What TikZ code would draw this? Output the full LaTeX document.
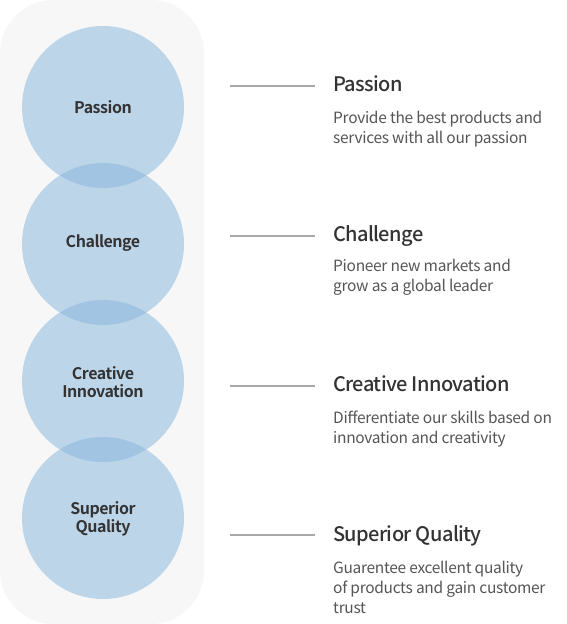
\documentclass[tikz,border=0pt]{standalone}
\usepackage{fontspec}
\setmainfont{Noto Sans CJK KR}
\newfontfamily\circfont{Noto Sans CJK KR}[UprightFont={* Bold},LetterSpace=-3]
\newfontfamily\headfont{Noto Sans CJK KR}[UprightFont={* Medium},LetterSpace=-3]
\newfontfamily\descfont{Noto Sans CJK KR}[LetterSpace=-2]
\definecolor{bgpanel}{HTML}{F7F7F7}
\definecolor{circblue}{RGB}{133,181,221}
\definecolor{darktext}{HTML}{333333}
\definecolor{desctext}{HTML}{555555}
\definecolor{rulegray}{HTML}{A8A8A8}
\begin{document}
\begin{tikzpicture}[x=1pt,y=-1pt,
  panel/.style={fill=bgpanel,draw=none,rounded corners=53pt},
  bubble/.style={circle,minimum size=162pt,inner sep=0pt,fill=circblue,fill opacity=0.5,text opacity=1,
    text=darktext,font=\circfont\fontsize{16}{18.5}\selectfont,align=center},
  heading/.style={anchor=base west,inner sep=0pt,text=darktext,font=\headfont\fontsize{20}{24}\selectfont},
  desc/.style={anchor=base west,inner sep=0pt,text=desctext,align=left,font=\descfont\fontsize{15.5}{20}\selectfont},
  leader/.style={draw=rulegray,line width=1.6pt}]
\useasboundingbox (0,0) rectangle (566,624);
\fill[panel] (0,0) rectangle (204,624);
\node[bubble] (c1) at (103,107) {};
\node[bubble] (c2) at (103,244) {};
\node[bubble] (c3) at (103,381) {};
\node[bubble] (c4) at (103,518) {};
\node[bubble,fill=none] (t1) at (103,107.5) {Passion};
\node[bubble,fill=none] (t2) at (103,243.5) {Challenge};
\node[bubble,fill=none] (t3) at (103,382) {Creative\\Innovation};
\node[bubble,fill=none] (t4) at (103,519) {Superior\\Quality};
\coordinate (l1a) at (230,86);  \coordinate (l1b) at (315,86);
\coordinate (l2a) at (230,236); \coordinate (l2b) at (315,236);
\coordinate (l3a) at (230,386); \coordinate (l3b) at (315,386);
\coordinate (l4a) at (230,535); \coordinate (l4b) at (315,535);
\draw[leader] (l1a) -- (l1b);
\draw[leader] (l2a) -- (l2b);
\draw[leader] (l3a) -- (l3b);
\draw[leader] (l4a) -- (l4b);
\node[heading] (h1) at (333,91.5) {Passion};
\node[heading] (h2) at (333,241) {Challenge};
\node[heading] (h3) at (333,391.5) {Creative Innovation};
\node[heading] (h4) at (333,541.5) {Superior Quality};
\node[desc] (d1) at (333,143.3) {Provide the best products and\\services with all our passion};
\node[desc] (d2) at (333,291) {Pioneer new markets and\\grow as a global leader};
\node[desc] (d3) at (333,443.3) {Differentiate our skills based on\\innovation and creativity};
\node[desc] (d4) at (333,613) {Guarentee excellent quality\\of products and gain customer\\trust};
\end{tikzpicture}
\end{document}
